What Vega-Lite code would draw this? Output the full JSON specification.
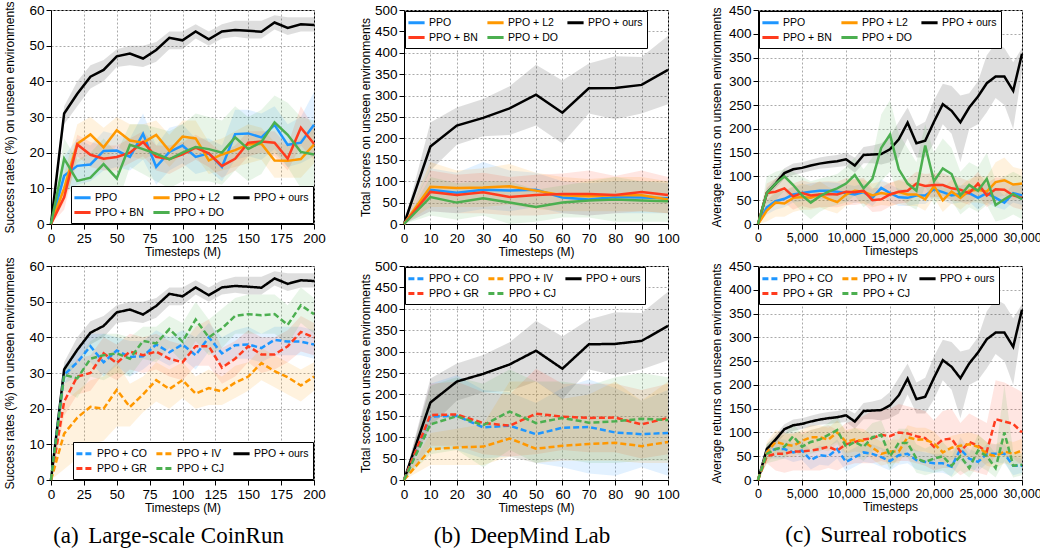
{
"$schema": "https://vega.github.io/schema/vega-lite/v6.json",
"background": "white",
"padding": {"left": 3, "top": 0, "right": 0, "bottom": 0},
"columns": 3,
"spacing": {"row": 42, "column": 90},
"bounds": "flush",
"resolve": {"scale": {"fill": "independent", "stroke": "independent", "strokeDash": "independent", "x": "independent", "y": "independent"}, "legend": {"stroke": "independent", "strokeDash": "independent"}},
"datasets": {
"a": [
{"s":"PPO + ours","t":0,"v":0,"l":0,"h":0},{"s":"PPO + ours","t":10,"v":31,"l":28,"h":33},{"s":"PPO + ours","t":20,"v":36.5,"l":33,"h":40},{"s":"PPO + ours","t":30,"v":41.3,"l":38,"h":44.5},{"s":"PPO + ours","t":40,"v":43.2,"l":40,"h":46},{"s":"PPO + ours","t":50,"v":47,"l":44,"h":49},{"s":"PPO + ours","t":60,"v":47.8,"l":44.5,"h":50},{"s":"PPO + ours","t":70,"v":46.4,"l":44,"h":50},{"s":"PPO + ours","t":80,"v":48.8,"l":45.5,"h":51},{"s":"PPO + ours","t":90,"v":52.2,"l":49,"h":54},{"s":"PPO + ours","t":100,"v":51.5,"l":49,"h":54},{"s":"PPO + ours","t":110,"v":54,"l":52,"h":56},{"s":"PPO + ours","t":120,"v":51.8,"l":50,"h":54},{"s":"PPO + ours","t":130,"v":54,"l":52,"h":56},{"s":"PPO + ours","t":140,"v":54.4,"l":52.5,"h":57},{"s":"PPO + ours","t":150,"v":54.2,"l":52,"h":57},{"s":"PPO + ours","t":160,"v":53.9,"l":52,"h":57},{"s":"PPO + ours","t":170,"v":56.5,"l":54.5,"h":58.5},{"s":"PPO + ours","t":180,"v":55,"l":53,"h":58},{"s":"PPO + ours","t":190,"v":56,"l":54,"h":58},{"s":"PPO + ours","t":200,"v":55.8,"l":54,"h":58},
{"s":"PPO","t":0,"v":0,"l":0,"h":0},{"s":"PPO","t":10,"v":13.5,"l":9,"h":19},{"s":"PPO","t":20,"v":16.3,"l":11,"h":24},{"s":"PPO","t":30,"v":16.7,"l":12,"h":22},{"s":"PPO","t":40,"v":20.5,"l":15,"h":26},{"s":"PPO","t":50,"v":20.6,"l":16,"h":25},{"s":"PPO","t":60,"v":18.8,"l":15,"h":24},{"s":"PPO","t":70,"v":25.3,"l":18,"h":31},{"s":"PPO","t":80,"v":16,"l":11,"h":22},{"s":"PPO","t":90,"v":20.2,"l":15,"h":27},{"s":"PPO","t":100,"v":22,"l":17,"h":28},{"s":"PPO","t":110,"v":18.8,"l":14,"h":24},{"s":"PPO","t":120,"v":19.8,"l":15,"h":24},{"s":"PPO","t":130,"v":16,"l":12,"h":22},{"s":"PPO","t":140,"v":25.2,"l":18,"h":32},{"s":"PPO","t":150,"v":25.4,"l":19,"h":32},{"s":"PPO","t":160,"v":24.3,"l":18,"h":31},{"s":"PPO","t":170,"v":27.8,"l":21,"h":33},{"s":"PPO","t":180,"v":22.2,"l":16,"h":28},{"s":"PPO","t":190,"v":22.8,"l":17,"h":30},{"s":"PPO","t":200,"v":27.8,"l":19,"h":37},
{"s":"PPO + L2","t":0,"v":0,"l":0,"h":0},{"s":"PPO + L2","t":10,"v":10,"l":6,"h":14},{"s":"PPO + L2","t":20,"v":22.5,"l":17,"h":28},{"s":"PPO + L2","t":30,"v":25.1,"l":20,"h":30},{"s":"PPO + L2","t":40,"v":21.5,"l":17,"h":27},{"s":"PPO + L2","t":50,"v":26.3,"l":22,"h":30},{"s":"PPO + L2","t":60,"v":23.4,"l":19,"h":28},{"s":"PPO + L2","t":70,"v":22.8,"l":18,"h":28},{"s":"PPO + L2","t":80,"v":25,"l":20,"h":29},{"s":"PPO + L2","t":90,"v":20.5,"l":16,"h":25},{"s":"PPO + L2","t":100,"v":24.5,"l":20,"h":29},{"s":"PPO + L2","t":110,"v":24,"l":19,"h":29},{"s":"PPO + L2","t":120,"v":17.8,"l":14,"h":23},{"s":"PPO + L2","t":130,"v":19.5,"l":15,"h":24},{"s":"PPO + L2","t":140,"v":20.7,"l":16,"h":26},{"s":"PPO + L2","t":150,"v":22.3,"l":17,"h":28},{"s":"PPO + L2","t":160,"v":22.5,"l":18,"h":27},{"s":"PPO + L2","t":170,"v":17.8,"l":13,"h":23},{"s":"PPO + L2","t":180,"v":17.7,"l":13,"h":22},{"s":"PPO + L2","t":190,"v":18.2,"l":13,"h":24},{"s":"PPO + L2","t":200,"v":22.3,"l":17,"h":28},
{"s":"PPO + BN","t":0,"v":0,"l":0,"h":0},{"s":"PPO + BN","t":10,"v":7.5,"l":4,"h":11},{"s":"PPO + BN","t":20,"v":22.3,"l":19,"h":25},{"s":"PPO + BN","t":30,"v":19.4,"l":16,"h":23},{"s":"PPO + BN","t":40,"v":18.3,"l":15,"h":22},{"s":"PPO + BN","t":50,"v":18.8,"l":15,"h":22},{"s":"PPO + BN","t":60,"v":20,"l":17,"h":24},{"s":"PPO + BN","t":70,"v":23,"l":19,"h":26},{"s":"PPO + BN","t":80,"v":18.8,"l":15,"h":22},{"s":"PPO + BN","t":90,"v":18.2,"l":14,"h":22},{"s":"PPO + BN","t":100,"v":19.5,"l":16,"h":23},{"s":"PPO + BN","t":110,"v":21.4,"l":18,"h":25},{"s":"PPO + BN","t":120,"v":19.8,"l":16,"h":23},{"s":"PPO + BN","t":130,"v":16.3,"l":13,"h":20},{"s":"PPO + BN","t":140,"v":18.3,"l":15,"h":22},{"s":"PPO + BN","t":150,"v":22.8,"l":19,"h":26},{"s":"PPO + BN","t":160,"v":23.1,"l":20,"h":26},{"s":"PPO + BN","t":170,"v":22.8,"l":19,"h":26},{"s":"PPO + BN","t":180,"v":18.3,"l":15,"h":22},{"s":"PPO + BN","t":190,"v":27,"l":22,"h":33},{"s":"PPO + BN","t":200,"v":22.5,"l":18,"h":27},
{"s":"PPO + DO","t":0,"v":0,"l":0,"h":0},{"s":"PPO + DO","t":10,"v":18.3,"l":12,"h":24},{"s":"PPO + DO","t":20,"v":12.1,"l":6,"h":18},{"s":"PPO + DO","t":30,"v":13,"l":6,"h":20},{"s":"PPO + DO","t":40,"v":16.8,"l":10,"h":24},{"s":"PPO + DO","t":50,"v":12.8,"l":5,"h":20},{"s":"PPO + DO","t":60,"v":22.2,"l":16,"h":28},{"s":"PPO + DO","t":70,"v":21,"l":14,"h":28},{"s":"PPO + DO","t":80,"v":19.7,"l":12,"h":27},{"s":"PPO + DO","t":90,"v":18.1,"l":10,"h":26},{"s":"PPO + DO","t":100,"v":20,"l":12,"h":28},{"s":"PPO + DO","t":110,"v":21.6,"l":12,"h":31},{"s":"PPO + DO","t":120,"v":21,"l":12,"h":30},{"s":"PPO + DO","t":130,"v":20,"l":11,"h":29},{"s":"PPO + DO","t":140,"v":24.3,"l":15,"h":33},{"s":"PPO + DO","t":150,"v":21,"l":12,"h":30},{"s":"PPO + DO","t":160,"v":23,"l":14,"h":32},{"s":"PPO + DO","t":170,"v":28.5,"l":20,"h":36},{"s":"PPO + DO","t":180,"v":25,"l":16,"h":34},{"s":"PPO + DO","t":190,"v":20.2,"l":10,"h":30},{"s":"PPO + DO","t":200,"v":19.5,"l":10,"h":29},
{"s":"PPO + CO","t":0,"v":0,"l":0,"h":0},{"s":"PPO + CO","t":10,"v":29.5,"l":27,"h":32},{"s":"PPO + CO","t":20,"v":33,"l":29,"h":37},{"s":"PPO + CO","t":30,"v":37.5,"l":33,"h":41},{"s":"PPO + CO","t":40,"v":33,"l":29,"h":41},{"s":"PPO + CO","t":50,"v":36.3,"l":32,"h":40},{"s":"PPO + CO","t":60,"v":34.5,"l":29,"h":39},{"s":"PPO + CO","t":70,"v":34.7,"l":31,"h":39},{"s":"PPO + CO","t":80,"v":38,"l":34,"h":42},{"s":"PPO + CO","t":90,"v":35.8,"l":32,"h":40},{"s":"PPO + CO","t":100,"v":38,"l":34,"h":42},{"s":"PPO + CO","t":110,"v":35,"l":31,"h":40},{"s":"PPO + CO","t":120,"v":40,"l":36,"h":44},{"s":"PPO + CO","t":130,"v":35.5,"l":32,"h":40},{"s":"PPO + CO","t":140,"v":37.8,"l":34,"h":42},{"s":"PPO + CO","t":150,"v":38,"l":34,"h":43},{"s":"PPO + CO","t":160,"v":37,"l":33,"h":41},{"s":"PPO + CO","t":170,"v":39.3,"l":35,"h":43},{"s":"PPO + CO","t":180,"v":38.8,"l":35,"h":43},{"s":"PPO + CO","t":190,"v":38.8,"l":35,"h":43},{"s":"PPO + CO","t":200,"v":38,"l":34,"h":42},
{"s":"PPO + GR","t":0,"v":0,"l":0,"h":0},{"s":"PPO + GR","t":10,"v":22,"l":18,"h":27},{"s":"PPO + GR","t":20,"v":29,"l":24,"h":34},{"s":"PPO + GR","t":30,"v":30,"l":25,"h":35},{"s":"PPO + GR","t":40,"v":35.5,"l":30,"h":40},{"s":"PPO + GR","t":50,"v":32.8,"l":28,"h":38},{"s":"PPO + GR","t":60,"v":36,"l":31,"h":41},{"s":"PPO + GR","t":70,"v":35,"l":30,"h":40},{"s":"PPO + GR","t":80,"v":36,"l":31,"h":41},{"s":"PPO + GR","t":90,"v":34,"l":29,"h":39},{"s":"PPO + GR","t":100,"v":33,"l":28,"h":38},{"s":"PPO + GR","t":110,"v":37.5,"l":32,"h":43},{"s":"PPO + GR","t":120,"v":37.5,"l":32,"h":45},{"s":"PPO + GR","t":130,"v":31.5,"l":27,"h":37},{"s":"PPO + GR","t":140,"v":34,"l":29,"h":39},{"s":"PPO + GR","t":150,"v":37.5,"l":33,"h":42},{"s":"PPO + GR","t":160,"v":35.2,"l":30,"h":40},{"s":"PPO + GR","t":170,"v":35.2,"l":31,"h":40},{"s":"PPO + GR","t":180,"v":37.5,"l":33,"h":42},{"s":"PPO + GR","t":190,"v":41.5,"l":36,"h":46},{"s":"PPO + GR","t":200,"v":40,"l":35,"h":44},
{"s":"PPO + IV","t":0,"v":0,"l":0,"h":0},{"s":"PPO + IV","t":10,"v":13,"l":3,"h":22},{"s":"PPO + IV","t":20,"v":17.5,"l":6,"h":25},{"s":"PPO + IV","t":30,"v":20.5,"l":10,"h":28},{"s":"PPO + IV","t":40,"v":20,"l":11,"h":29},{"s":"PPO + IV","t":50,"v":25.3,"l":15,"h":33},{"s":"PPO + IV","t":60,"v":20.5,"l":15,"h":27},{"s":"PPO + IV","t":70,"v":24,"l":19,"h":29},{"s":"PPO + IV","t":80,"v":28,"l":22,"h":33},{"s":"PPO + IV","t":90,"v":25.5,"l":20,"h":31},{"s":"PPO + IV","t":100,"v":28,"l":23,"h":33},{"s":"PPO + IV","t":110,"v":24.2,"l":20,"h":29},{"s":"PPO + IV","t":120,"v":25.8,"l":21,"h":31},{"s":"PPO + IV","t":130,"v":24.8,"l":21,"h":29},{"s":"PPO + IV","t":140,"v":27.3,"l":23,"h":32},{"s":"PPO + IV","t":150,"v":29,"l":25,"h":33},{"s":"PPO + IV","t":160,"v":32.8,"l":28,"h":37},{"s":"PPO + IV","t":170,"v":30.5,"l":26,"h":35},{"s":"PPO + IV","t":180,"v":28.8,"l":24,"h":33},{"s":"PPO + IV","t":190,"v":26.5,"l":22,"h":31},{"s":"PPO + IV","t":200,"v":29,"l":25,"h":33},
{"s":"PPO + CJ","t":0,"v":0,"l":0,"h":0},{"s":"PPO + CJ","t":10,"v":29.5,"l":25,"h":32},{"s":"PPO + CJ","t":20,"v":28.5,"l":23,"h":33},{"s":"PPO + CJ","t":30,"v":34,"l":29,"h":39},{"s":"PPO + CJ","t":40,"v":35,"l":28,"h":41},{"s":"PPO + CJ","t":50,"v":35.5,"l":30,"h":41},{"s":"PPO + CJ","t":60,"v":34,"l":29,"h":40},{"s":"PPO + CJ","t":70,"v":39,"l":34,"h":43},{"s":"PPO + CJ","t":80,"v":38.3,"l":33,"h":43},{"s":"PPO + CJ","t":90,"v":42.3,"l":37,"h":46},{"s":"PPO + CJ","t":100,"v":38.8,"l":33,"h":44},{"s":"PPO + CJ","t":110,"v":45,"l":39,"h":50},{"s":"PPO + CJ","t":120,"v":40,"l":35,"h":45},{"s":"PPO + CJ","t":130,"v":42.5,"l":37,"h":48},{"s":"PPO + CJ","t":140,"v":46,"l":41,"h":51},{"s":"PPO + CJ","t":150,"v":46.5,"l":41,"h":52},{"s":"PPO + CJ","t":160,"v":46.2,"l":41,"h":52},{"s":"PPO + CJ","t":170,"v":46.5,"l":41,"h":52},{"s":"PPO + CJ","t":180,"v":43.5,"l":38,"h":49},{"s":"PPO + CJ","t":190,"v":49,"l":44,"h":54},{"s":"PPO + CJ","t":200,"v":46.5,"l":41,"h":51}
],
"b": [
{"s":"PPO + ours","t":0,"v":0,"l":0,"h":0},{"s":"PPO + ours","t":10,"v":181,"l":125,"h":237},{"s":"PPO + ours","t":20,"v":230,"l":185,"h":272},{"s":"PPO + ours","t":30,"v":248,"l":205,"h":292},{"s":"PPO + ours","t":40,"v":270,"l":208,"h":322},{"s":"PPO + ours","t":50,"v":302,"l":230,"h":372},{"s":"PPO + ours","t":60,"v":260,"l":188,"h":335},{"s":"PPO + ours","t":70,"v":317,"l":258,"h":375},{"s":"PPO + ours","t":80,"v":318,"l":245,"h":392},{"s":"PPO + ours","t":90,"v":325,"l":258,"h":390},{"s":"PPO + ours","t":100,"v":360,"l":280,"h":440},
{"s":"PPO","t":0,"v":0,"l":0,"h":0},{"s":"PPO","t":10,"v":80,"l":30,"h":130},{"s":"PPO","t":20,"v":73,"l":25,"h":120},{"s":"PPO","t":30,"v":80,"l":35,"h":145},{"s":"PPO","t":40,"v":78,"l":30,"h":125},{"s":"PPO","t":50,"v":80,"l":40,"h":120},{"s":"PPO","t":60,"v":62,"l":25,"h":100},{"s":"PPO","t":70,"v":57,"l":20,"h":95},{"s":"PPO","t":80,"v":63,"l":25,"h":100},{"s":"PPO","t":90,"v":62,"l":25,"h":100},{"s":"PPO","t":100,"v":60,"l":25,"h":95},
{"s":"PPO + L2","t":0,"v":0,"l":0,"h":0},{"s":"PPO + L2","t":10,"v":87,"l":40,"h":145},{"s":"PPO + L2","t":20,"v":84,"l":40,"h":125},{"s":"PPO + L2","t":30,"v":85,"l":40,"h":130},{"s":"PPO + L2","t":40,"v":88,"l":45,"h":140},{"s":"PPO + L2","t":50,"v":78,"l":35,"h":120},{"s":"PPO + L2","t":60,"v":67,"l":30,"h":110},{"s":"PPO + L2","t":70,"v":65,"l":30,"h":105},{"s":"PPO + L2","t":80,"v":67,"l":30,"h":110},{"s":"PPO + L2","t":90,"v":67,"l":30,"h":110},{"s":"PPO + L2","t":100,"v":57,"l":25,"h":100},
{"s":"PPO + BN","t":0,"v":0,"l":0,"h":0},{"s":"PPO + BN","t":10,"v":75,"l":30,"h":125},{"s":"PPO + BN","t":20,"v":68,"l":25,"h":115},{"s":"PPO + BN","t":30,"v":74,"l":25,"h":120},{"s":"PPO + BN","t":40,"v":63,"l":20,"h":110},{"s":"PPO + BN","t":50,"v":68,"l":20,"h":115},{"s":"PPO + BN","t":60,"v":70,"l":25,"h":118},{"s":"PPO + BN","t":70,"v":70,"l":20,"h":125},{"s":"PPO + BN","t":80,"v":68,"l":25,"h":112},{"s":"PPO + BN","t":90,"v":75,"l":30,"h":125},{"s":"PPO + BN","t":100,"v":68,"l":25,"h":110},
{"s":"PPO + DO","t":0,"v":0,"l":0,"h":0},{"s":"PPO + DO","t":10,"v":63,"l":20,"h":110},{"s":"PPO + DO","t":20,"v":50,"l":10,"h":95},{"s":"PPO + DO","t":30,"v":60,"l":20,"h":100},{"s":"PPO + DO","t":40,"v":50,"l":0,"h":100},{"s":"PPO + DO","t":50,"v":40,"l":5,"h":80},{"s":"PPO + DO","t":60,"v":50,"l":15,"h":90},{"s":"PPO + DO","t":70,"v":55,"l":15,"h":100},{"s":"PPO + DO","t":80,"v":57,"l":5,"h":110},{"s":"PPO + DO","t":90,"v":55,"l":5,"h":100},{"s":"PPO + DO","t":100,"v":53,"l":5,"h":100},
{"s":"PPO + CO","t":0,"v":0,"l":0,"h":0},{"s":"PPO + CO","t":10,"v":148,"l":75,"h":225},{"s":"PPO + CO","t":20,"v":150,"l":70,"h":245},{"s":"PPO + CO","t":30,"v":123,"l":50,"h":210},{"s":"PPO + CO","t":40,"v":127,"l":55,"h":205},{"s":"PPO + CO","t":50,"v":107,"l":40,"h":180},{"s":"PPO + CO","t":60,"v":122,"l":30,"h":215},{"s":"PPO + CO","t":70,"v":124,"l":15,"h":235},{"s":"PPO + CO","t":80,"v":111,"l":10,"h":215},{"s":"PPO + CO","t":90,"v":107,"l":30,"h":185},{"s":"PPO + CO","t":100,"v":110,"l":10,"h":210},
{"s":"PPO + GR","t":0,"v":0,"l":0,"h":0},{"s":"PPO + GR","t":10,"v":152,"l":80,"h":225},{"s":"PPO + GR","t":20,"v":153,"l":80,"h":230},{"s":"PPO + GR","t":30,"v":133,"l":60,"h":205},{"s":"PPO + GR","t":40,"v":127,"l":55,"h":200},{"s":"PPO + GR","t":50,"v":155,"l":60,"h":260},{"s":"PPO + GR","t":60,"v":148,"l":70,"h":225},{"s":"PPO + GR","t":70,"v":145,"l":65,"h":225},{"s":"PPO + GR","t":80,"v":146,"l":65,"h":225},{"s":"PPO + GR","t":90,"v":130,"l":50,"h":210},{"s":"PPO + GR","t":100,"v":145,"l":60,"h":225},
{"s":"PPO + IV","t":0,"v":0,"l":0,"h":0},{"s":"PPO + IV","t":10,"v":72,"l":35,"h":110},{"s":"PPO + IV","t":20,"v":76,"l":35,"h":120},{"s":"PPO + IV","t":30,"v":78,"l":35,"h":130},{"s":"PPO + IV","t":40,"v":97,"l":55,"h":230},{"s":"PPO + IV","t":50,"v":73,"l":40,"h":230},{"s":"PPO + IV","t":60,"v":80,"l":45,"h":190},{"s":"PPO + IV","t":70,"v":84,"l":45,"h":200},{"s":"PPO + IV","t":80,"v":87,"l":45,"h":230},{"s":"PPO + IV","t":90,"v":79,"l":40,"h":185},{"s":"PPO + IV","t":100,"v":89,"l":40,"h":230},
{"s":"PPO + CJ","t":0,"v":0,"l":0,"h":0},{"s":"PPO + CJ","t":10,"v":130,"l":60,"h":220},{"s":"PPO + CJ","t":20,"v":149,"l":70,"h":240},{"s":"PPO + CJ","t":30,"v":128,"l":30,"h":225},{"s":"PPO + CJ","t":40,"v":160,"l":70,"h":258},{"s":"PPO + CJ","t":50,"v":133,"l":40,"h":230},{"s":"PPO + CJ","t":60,"v":145,"l":50,"h":230},{"s":"PPO + CJ","t":70,"v":134,"l":40,"h":220},{"s":"PPO + CJ","t":80,"v":137,"l":40,"h":240},{"s":"PPO + CJ","t":90,"v":143,"l":45,"h":250},{"s":"PPO + CJ","t":100,"v":140,"l":45,"h":240}
],
"c": [
{"s":"PPO + ours","t":0,"v":0,"l":0,"h":0},{"s":"PPO + ours","t":1000,"v":65,"l":55,"h":75},{"s":"PPO + ours","t":2000,"v":85,"l":75,"h":95},{"s":"PPO + ours","t":3000,"v":107,"l":95,"h":117},{"s":"PPO + ours","t":4000,"v":115,"l":103,"h":127},{"s":"PPO + ours","t":5000,"v":118,"l":107,"h":130},{"s":"PPO + ours","t":6000,"v":123,"l":112,"h":135},{"s":"PPO + ours","t":7000,"v":127,"l":116,"h":140},{"s":"PPO + ours","t":8000,"v":130,"l":118,"h":143},{"s":"PPO + ours","t":9000,"v":132,"l":120,"h":145},{"s":"PPO + ours","t":10000,"v":136,"l":122,"h":150},{"s":"PPO + ours","t":11000,"v":123,"l":108,"h":140},{"s":"PPO + ours","t":12000,"v":145,"l":128,"h":162},{"s":"PPO + ours","t":13000,"v":146,"l":128,"h":165},{"s":"PPO + ours","t":14000,"v":147,"l":125,"h":170},{"s":"PPO + ours","t":15000,"v":157,"l":130,"h":185},{"s":"PPO + ours","t":16000,"v":178,"l":140,"h":215},{"s":"PPO + ours","t":17000,"v":213,"l":180,"h":245},{"s":"PPO + ours","t":18000,"v":170,"l":140,"h":205},{"s":"PPO + ours","t":19000,"v":175,"l":140,"h":215},{"s":"PPO + ours","t":20000,"v":215,"l":170,"h":260},{"s":"PPO + ours","t":21000,"v":252,"l":210,"h":295},{"s":"PPO + ours","t":22000,"v":238,"l":190,"h":290},{"s":"PPO + ours","t":23000,"v":214,"l":130,"h":270},{"s":"PPO + ours","t":24000,"v":245,"l":200,"h":275},{"s":"PPO + ours","t":25000,"v":268,"l":210,"h":300},{"s":"PPO + ours","t":26000,"v":296,"l":235,"h":355},{"s":"PPO + ours","t":27000,"v":310,"l":265,"h":380},{"s":"PPO + ours","t":28000,"v":310,"l":250,"h":370},{"s":"PPO + ours","t":29000,"v":280,"l":200,"h":340},{"s":"PPO + ours","t":30000,"v":358,"l":320,"h":370},
{"s":"PPO","t":0,"v":0,"l":0,"h":0},{"s":"PPO","t":1000,"v":35,"l":20,"h":50},{"s":"PPO","t":2000,"v":48,"l":30,"h":65},{"s":"PPO","t":3000,"v":53,"l":35,"h":70},{"s":"PPO","t":4000,"v":62,"l":45,"h":78},{"s":"PPO","t":5000,"v":65,"l":48,"h":82},{"s":"PPO","t":6000,"v":68,"l":50,"h":85},{"s":"PPO","t":7000,"v":70,"l":52,"h":88},{"s":"PPO","t":8000,"v":70,"l":52,"h":88},{"s":"PPO","t":9000,"v":68,"l":50,"h":86},{"s":"PPO","t":10000,"v":65,"l":47,"h":83},{"s":"PPO","t":11000,"v":62,"l":44,"h":80},{"s":"PPO","t":12000,"v":67,"l":49,"h":85},{"s":"PPO","t":13000,"v":55,"l":38,"h":72},{"s":"PPO","t":14000,"v":76,"l":58,"h":94},{"s":"PPO","t":15000,"v":65,"l":47,"h":83},{"s":"PPO","t":16000,"v":56,"l":38,"h":74},{"s":"PPO","t":17000,"v":55,"l":38,"h":72},{"s":"PPO","t":18000,"v":60,"l":42,"h":78},{"s":"PPO","t":19000,"v":60,"l":42,"h":78},{"s":"PPO","t":20000,"v":73,"l":55,"h":91},{"s":"PPO","t":21000,"v":67,"l":49,"h":85},{"s":"PPO","t":22000,"v":60,"l":42,"h":78},{"s":"PPO","t":23000,"v":63,"l":45,"h":81},{"s":"PPO","t":24000,"v":65,"l":47,"h":83},{"s":"PPO","t":25000,"v":55,"l":30,"h":75},{"s":"PPO","t":26000,"v":65,"l":45,"h":85},{"s":"PPO","t":27000,"v":55,"l":35,"h":75},{"s":"PPO","t":28000,"v":45,"l":30,"h":60},{"s":"PPO","t":29000,"v":65,"l":45,"h":85},{"s":"PPO","t":30000,"v":60,"l":40,"h":80},
{"s":"PPO + L2","t":0,"v":0,"l":0,"h":0},{"s":"PPO + L2","t":1000,"v":28,"l":5,"h":50},{"s":"PPO + L2","t":2000,"v":45,"l":15,"h":70},{"s":"PPO + L2","t":3000,"v":43,"l":15,"h":70},{"s":"PPO + L2","t":4000,"v":55,"l":25,"h":80},{"s":"PPO + L2","t":5000,"v":57,"l":30,"h":85},{"s":"PPO + L2","t":6000,"v":55,"l":30,"h":80},{"s":"PPO + L2","t":7000,"v":62,"l":35,"h":90},{"s":"PPO + L2","t":8000,"v":53,"l":28,"h":78},{"s":"PPO + L2","t":9000,"v":46,"l":22,"h":70},{"s":"PPO + L2","t":10000,"v":62,"l":38,"h":86},{"s":"PPO + L2","t":11000,"v":70,"l":45,"h":95},{"s":"PPO + L2","t":12000,"v":68,"l":43,"h":93},{"s":"PPO + L2","t":13000,"v":60,"l":35,"h":85},{"s":"PPO + L2","t":14000,"v":65,"l":40,"h":90},{"s":"PPO + L2","t":15000,"v":62,"l":38,"h":86},{"s":"PPO + L2","t":16000,"v":67,"l":42,"h":92},{"s":"PPO + L2","t":17000,"v":62,"l":38,"h":86},{"s":"PPO + L2","t":18000,"v":62,"l":38,"h":86},{"s":"PPO + L2","t":19000,"v":52,"l":28,"h":76},{"s":"PPO + L2","t":20000,"v":80,"l":55,"h":105},{"s":"PPO + L2","t":21000,"v":50,"l":25,"h":75},{"s":"PPO + L2","t":22000,"v":68,"l":43,"h":93},{"s":"PPO + L2","t":23000,"v":55,"l":30,"h":80},{"s":"PPO + L2","t":24000,"v":70,"l":45,"h":95},{"s":"PPO + L2","t":25000,"v":72,"l":45,"h":100},{"s":"PPO + L2","t":26000,"v":68,"l":40,"h":100},{"s":"PPO + L2","t":27000,"v":88,"l":55,"h":130},{"s":"PPO + L2","t":28000,"v":92,"l":60,"h":140},{"s":"PPO + L2","t":29000,"v":83,"l":50,"h":120},{"s":"PPO + L2","t":30000,"v":85,"l":55,"h":115},
{"s":"PPO + BN","t":0,"v":0,"l":0,"h":0},{"s":"PPO + BN","t":1000,"v":65,"l":45,"h":85},{"s":"PPO + BN","t":2000,"v":68,"l":40,"h":95},{"s":"PPO + BN","t":3000,"v":75,"l":45,"h":105},{"s":"PPO + BN","t":4000,"v":58,"l":30,"h":85},{"s":"PPO + BN","t":5000,"v":65,"l":38,"h":92},{"s":"PPO + BN","t":6000,"v":60,"l":33,"h":87},{"s":"PPO + BN","t":7000,"v":62,"l":35,"h":89},{"s":"PPO + BN","t":8000,"v":63,"l":36,"h":90},{"s":"PPO + BN","t":9000,"v":62,"l":35,"h":89},{"s":"PPO + BN","t":10000,"v":68,"l":40,"h":96},{"s":"PPO + BN","t":11000,"v":67,"l":40,"h":94},{"s":"PPO + BN","t":12000,"v":70,"l":43,"h":97},{"s":"PPO + BN","t":13000,"v":50,"l":25,"h":75},{"s":"PPO + BN","t":14000,"v":52,"l":27,"h":77},{"s":"PPO + BN","t":15000,"v":62,"l":37,"h":87},{"s":"PPO + BN","t":16000,"v":68,"l":43,"h":93},{"s":"PPO + BN","t":17000,"v":70,"l":45,"h":95},{"s":"PPO + BN","t":18000,"v":85,"l":60,"h":110},{"s":"PPO + BN","t":19000,"v":80,"l":55,"h":105},{"s":"PPO + BN","t":20000,"v":82,"l":57,"h":107},{"s":"PPO + BN","t":21000,"v":82,"l":57,"h":107},{"s":"PPO + BN","t":22000,"v":75,"l":50,"h":100},{"s":"PPO + BN","t":23000,"v":72,"l":47,"h":97},{"s":"PPO + BN","t":24000,"v":65,"l":40,"h":90},{"s":"PPO + BN","t":25000,"v":85,"l":60,"h":110},{"s":"PPO + BN","t":26000,"v":60,"l":35,"h":85},{"s":"PPO + BN","t":27000,"v":73,"l":48,"h":98},{"s":"PPO + BN","t":28000,"v":72,"l":47,"h":97},{"s":"PPO + BN","t":29000,"v":60,"l":35,"h":85},{"s":"PPO + BN","t":30000,"v":55,"l":30,"h":80},
{"s":"PPO + DO","t":0,"v":0,"l":0,"h":0},{"s":"PPO + DO","t":1000,"v":65,"l":30,"h":100},{"s":"PPO + DO","t":2000,"v":85,"l":50,"h":110},{"s":"PPO + DO","t":3000,"v":100,"l":70,"h":115},{"s":"PPO + DO","t":4000,"v":82,"l":45,"h":110},{"s":"PPO + DO","t":5000,"v":60,"l":25,"h":100},{"s":"PPO + DO","t":6000,"v":45,"l":10,"h":90},{"s":"PPO + DO","t":7000,"v":58,"l":25,"h":95},{"s":"PPO + DO","t":8000,"v":68,"l":35,"h":100},{"s":"PPO + DO","t":9000,"v":75,"l":40,"h":105},{"s":"PPO + DO","t":10000,"v":85,"l":45,"h":120},{"s":"PPO + DO","t":11000,"v":103,"l":60,"h":140},{"s":"PPO + DO","t":12000,"v":75,"l":35,"h":115},{"s":"PPO + DO","t":13000,"v":95,"l":50,"h":140},{"s":"PPO + DO","t":14000,"v":160,"l":90,"h":230},{"s":"PPO + DO","t":15000,"v":188,"l":110,"h":260},{"s":"PPO + DO","t":16000,"v":115,"l":60,"h":190},{"s":"PPO + DO","t":17000,"v":85,"l":40,"h":160},{"s":"PPO + DO","t":18000,"v":70,"l":30,"h":130},{"s":"PPO + DO","t":19000,"v":165,"l":80,"h":210},{"s":"PPO + DO","t":20000,"v":90,"l":40,"h":150},{"s":"PPO + DO","t":21000,"v":117,"l":60,"h":180},{"s":"PPO + DO","t":22000,"v":105,"l":50,"h":160},{"s":"PPO + DO","t":23000,"v":60,"l":20,"h":110},{"s":"PPO + DO","t":24000,"v":82,"l":35,"h":130},{"s":"PPO + DO","t":25000,"v":70,"l":25,"h":120},{"s":"PPO + DO","t":26000,"v":95,"l":40,"h":150},{"s":"PPO + DO","t":27000,"v":40,"l":5,"h":90},{"s":"PPO + DO","t":28000,"v":52,"l":10,"h":100},{"s":"PPO + DO","t":29000,"v":63,"l":20,"h":110},{"s":"PPO + DO","t":30000,"v":52,"l":10,"h":100},
{"s":"PPO + CO","t":0,"v":0,"l":0,"h":0},{"s":"PPO + CO","t":1000,"v":60,"l":45,"h":75},{"s":"PPO + CO","t":2000,"v":65,"l":45,"h":85},{"s":"PPO + CO","t":3000,"v":65,"l":45,"h":85},{"s":"PPO + CO","t":4000,"v":58,"l":38,"h":78},{"s":"PPO + CO","t":5000,"v":62,"l":42,"h":82},{"s":"PPO + CO","t":6000,"v":42,"l":22,"h":62},{"s":"PPO + CO","t":7000,"v":52,"l":32,"h":72},{"s":"PPO + CO","t":8000,"v":50,"l":30,"h":70},{"s":"PPO + CO","t":9000,"v":65,"l":45,"h":85},{"s":"PPO + CO","t":10000,"v":38,"l":18,"h":58},{"s":"PPO + CO","t":11000,"v":48,"l":28,"h":68},{"s":"PPO + CO","t":12000,"v":58,"l":38,"h":78},{"s":"PPO + CO","t":13000,"v":55,"l":35,"h":75},{"s":"PPO + CO","t":14000,"v":48,"l":28,"h":68},{"s":"PPO + CO","t":15000,"v":40,"l":20,"h":60},{"s":"PPO + CO","t":16000,"v":52,"l":32,"h":72},{"s":"PPO + CO","t":17000,"v":55,"l":35,"h":75},{"s":"PPO + CO","t":18000,"v":42,"l":22,"h":62},{"s":"PPO + CO","t":19000,"v":38,"l":18,"h":58},{"s":"PPO + CO","t":20000,"v":35,"l":15,"h":55},{"s":"PPO + CO","t":21000,"v":35,"l":15,"h":55},{"s":"PPO + CO","t":22000,"v":28,"l":8,"h":48},{"s":"PPO + CO","t":23000,"v":65,"l":40,"h":90},{"s":"PPO + CO","t":24000,"v":45,"l":25,"h":65},{"s":"PPO + CO","t":25000,"v":38,"l":18,"h":58},{"s":"PPO + CO","t":26000,"v":55,"l":35,"h":75},{"s":"PPO + CO","t":27000,"v":55,"l":35,"h":75},{"s":"PPO + CO","t":28000,"v":55,"l":35,"h":75},{"s":"PPO + CO","t":29000,"v":30,"l":10,"h":50},{"s":"PPO + CO","t":30000,"v":30,"l":15,"h":45},
{"s":"PPO + GR","t":0,"v":0,"l":0,"h":0},{"s":"PPO + GR","t":1000,"v":50,"l":35,"h":65},{"s":"PPO + GR","t":2000,"v":55,"l":20,"h":90},{"s":"PPO + GR","t":3000,"v":55,"l":15,"h":95},{"s":"PPO + GR","t":4000,"v":60,"l":20,"h":100},{"s":"PPO + GR","t":5000,"v":60,"l":20,"h":100},{"s":"PPO + GR","t":6000,"v":62,"l":20,"h":105},{"s":"PPO + GR","t":7000,"v":65,"l":20,"h":110},{"s":"PPO + GR","t":8000,"v":70,"l":25,"h":115},{"s":"PPO + GR","t":9000,"v":62,"l":20,"h":105},{"s":"PPO + GR","t":10000,"v":75,"l":30,"h":120},{"s":"PPO + GR","t":11000,"v":80,"l":35,"h":125},{"s":"PPO + GR","t":12000,"v":85,"l":35,"h":135},{"s":"PPO + GR","t":13000,"v":88,"l":35,"h":145},{"s":"PPO + GR","t":14000,"v":95,"l":40,"h":150},{"s":"PPO + GR","t":15000,"v":92,"l":35,"h":150},{"s":"PPO + GR","t":16000,"v":100,"l":40,"h":160},{"s":"PPO + GR","t":17000,"v":98,"l":40,"h":155},{"s":"PPO + GR","t":18000,"v":92,"l":35,"h":150},{"s":"PPO + GR","t":19000,"v":88,"l":30,"h":145},{"s":"PPO + GR","t":20000,"v":70,"l":20,"h":125},{"s":"PPO + GR","t":21000,"v":85,"l":25,"h":145},{"s":"PPO + GR","t":22000,"v":87,"l":25,"h":150},{"s":"PPO + GR","t":23000,"v":60,"l":10,"h":120},{"s":"PPO + GR","t":24000,"v":80,"l":20,"h":140},{"s":"PPO + GR","t":25000,"v":72,"l":15,"h":130},{"s":"PPO + GR","t":26000,"v":60,"l":10,"h":120},{"s":"PPO + GR","t":27000,"v":128,"l":55,"h":210},{"s":"PPO + GR","t":28000,"v":123,"l":50,"h":205},{"s":"PPO + GR","t":29000,"v":118,"l":45,"h":195},{"s":"PPO + GR","t":30000,"v":100,"l":30,"h":185},
{"s":"PPO + IV","t":0,"v":0,"l":0,"h":0},{"s":"PPO + IV","t":1000,"v":58,"l":35,"h":80},{"s":"PPO + IV","t":2000,"v":80,"l":55,"h":105},{"s":"PPO + IV","t":3000,"v":75,"l":50,"h":100},{"s":"PPO + IV","t":4000,"v":72,"l":48,"h":96},{"s":"PPO + IV","t":5000,"v":82,"l":58,"h":106},{"s":"PPO + IV","t":6000,"v":90,"l":65,"h":115},{"s":"PPO + IV","t":7000,"v":90,"l":65,"h":115},{"s":"PPO + IV","t":8000,"v":85,"l":60,"h":110},{"s":"PPO + IV","t":9000,"v":100,"l":75,"h":125},{"s":"PPO + IV","t":10000,"v":80,"l":55,"h":105},{"s":"PPO + IV","t":11000,"v":85,"l":60,"h":110},{"s":"PPO + IV","t":12000,"v":82,"l":57,"h":107},{"s":"PPO + IV","t":13000,"v":68,"l":43,"h":93},{"s":"PPO + IV","t":14000,"v":55,"l":30,"h":80},{"s":"PPO + IV","t":15000,"v":60,"l":35,"h":85},{"s":"PPO + IV","t":16000,"v":60,"l":35,"h":85},{"s":"PPO + IV","t":17000,"v":90,"l":65,"h":115},{"s":"PPO + IV","t":18000,"v":85,"l":60,"h":110},{"s":"PPO + IV","t":19000,"v":85,"l":60,"h":110},{"s":"PPO + IV","t":20000,"v":77,"l":52,"h":102},{"s":"PPO + IV","t":21000,"v":58,"l":33,"h":83},{"s":"PPO + IV","t":22000,"v":68,"l":43,"h":93},{"s":"PPO + IV","t":23000,"v":72,"l":47,"h":97},{"s":"PPO + IV","t":24000,"v":75,"l":50,"h":100},{"s":"PPO + IV","t":25000,"v":70,"l":45,"h":95},{"s":"PPO + IV","t":26000,"v":55,"l":30,"h":80},{"s":"PPO + IV","t":27000,"v":50,"l":25,"h":75},{"s":"PPO + IV","t":28000,"v":60,"l":35,"h":85},{"s":"PPO + IV","t":29000,"v":55,"l":30,"h":80},{"s":"PPO + IV","t":30000,"v":62,"l":37,"h":87},
{"s":"PPO + CJ","t":0,"v":0,"l":0,"h":0},{"s":"PPO + CJ","t":1000,"v":55,"l":35,"h":75},{"s":"PPO + CJ","t":2000,"v":65,"l":40,"h":90},{"s":"PPO + CJ","t":3000,"v":70,"l":45,"h":95},{"s":"PPO + CJ","t":4000,"v":92,"l":65,"h":120},{"s":"PPO + CJ","t":5000,"v":70,"l":45,"h":95},{"s":"PPO + CJ","t":6000,"v":80,"l":55,"h":105},{"s":"PPO + CJ","t":7000,"v":85,"l":60,"h":110},{"s":"PPO + CJ","t":8000,"v":95,"l":70,"h":120},{"s":"PPO + CJ","t":9000,"v":105,"l":80,"h":135},{"s":"PPO + CJ","t":10000,"v":70,"l":40,"h":100},{"s":"PPO + CJ","t":11000,"v":80,"l":50,"h":110},{"s":"PPO + CJ","t":12000,"v":70,"l":40,"h":100},{"s":"PPO + CJ","t":13000,"v":90,"l":60,"h":120},{"s":"PPO + CJ","t":14000,"v":95,"l":65,"h":125},{"s":"PPO + CJ","t":15000,"v":50,"l":20,"h":80},{"s":"PPO + CJ","t":16000,"v":78,"l":48,"h":108},{"s":"PPO + CJ","t":17000,"v":78,"l":48,"h":108},{"s":"PPO + CJ","t":18000,"v":45,"l":15,"h":75},{"s":"PPO + CJ","t":19000,"v":38,"l":10,"h":66},{"s":"PPO + CJ","t":20000,"v":45,"l":15,"h":75},{"s":"PPO + CJ","t":21000,"v":50,"l":20,"h":80},{"s":"PPO + CJ","t":22000,"v":30,"l":5,"h":60},{"s":"PPO + CJ","t":23000,"v":50,"l":20,"h":80},{"s":"PPO + CJ","t":24000,"v":25,"l":5,"h":55},{"s":"PPO + CJ","t":25000,"v":62,"l":30,"h":95},{"s":"PPO + CJ","t":26000,"v":50,"l":20,"h":80},{"s":"PPO + CJ","t":27000,"v":25,"l":5,"h":55},{"s":"PPO + CJ","t":28000,"v":100,"l":40,"h":200},{"s":"PPO + CJ","t":29000,"v":30,"l":5,"h":60},{"s":"PPO + CJ","t":30000,"v":32,"l":10,"h":55}
]
},
"concat": [
{
"width": 263, "height": 214,
"data": {"name": "a"},
"transform": [{"filter": {"field": "s", "oneOf": ["PPO", "PPO + L2", "PPO + ours", "PPO + BN", "PPO + DO"]}}],
"encoding": {"x": {"field": "t", "type": "quantitative", "scale": {"domain": [0, 200], "nice": false}, "axis": {"title": "Timesteps (M)", "values": [0, 25, 50, 75, 100, 125, 150, 175, 200]}}},
"layer": [
{"mark": {"type": "area", "opacity": 0.13}, "encoding": {"y": {"field": "l", "type": "quantitative", "scale": {"domain": [0, 60], "nice": false}, "axis": {"title": "Success rates (%) on unseen environments", "titlePadding": 12, "values": [0, 10, 20, 30, 40, 50, 60]}}, "y2": {"field": "h"}, "fill": {"field": "s", "type": "nominal", "scale": {"domain": ["PPO", "PPO + BN", "PPO + DO", "PPO + L2", "PPO + ours"], "range": ["#1E96FF", "#FF3B1E", "#4CAF50", "#FF9800", "#000000"]}, "legend": null}}},
{"mark": {"type": "line", "strokeWidth": 2.5}, "encoding": {"y": {"field": "v", "type": "quantitative", "axis": {"title": "Success rates (%) on unseen environments", "titlePadding": 12, "values": [0, 10, 20, 30, 40, 50, 60]}}, "stroke": {"field": "s", "type": "nominal", "scale": {"domain": ["PPO", "PPO + L2", "PPO + ours", "PPO + BN", "PPO + DO"], "range": ["#1E96FF", "#FF9800", "#000000", "#FF3B1E", "#4CAF50"]}, "legend": {"title": null, "orient": "bottom-right", "symbolType": "M-1.35,0H1.35"}}}}
]
},
{
"width": 264, "height": 214,
"data": {"name": "b"},
"transform": [{"filter": {"field": "s", "oneOf": ["PPO", "PPO + L2", "PPO + ours", "PPO + BN", "PPO + DO"]}}],
"encoding": {"x": {"field": "t", "type": "quantitative", "scale": {"domain": [0, 100], "nice": false}, "axis": {"title": "Timesteps (M)", "values": [0, 10, 20, 30, 40, 50, 60, 70, 80, 90, 100]}}},
"layer": [
{"mark": {"type": "area", "opacity": 0.13}, "encoding": {"y": {"field": "l", "type": "quantitative", "scale": {"domain": [0, 500], "nice": false}, "axis": {"title": "Total scores on unseen environments", "values": [0, 50, 100, 150, 200, 250, 300, 350, 400, 450, 500]}}, "y2": {"field": "h"}, "fill": {"field": "s", "type": "nominal", "scale": {"domain": ["PPO", "PPO + BN", "PPO + DO", "PPO + L2", "PPO + ours"], "range": ["#1E96FF", "#FF3B1E", "#4CAF50", "#FF9800", "#000000"]}, "legend": null}}},
{"mark": {"type": "line", "strokeWidth": 2.5}, "encoding": {"y": {"field": "v", "type": "quantitative", "axis": {"title": "Total scores on unseen environments", "values": [0, 50, 100, 150, 200, 250, 300, 350, 400, 450, 500]}}, "stroke": {"field": "s", "type": "nominal", "scale": {"domain": ["PPO", "PPO + L2", "PPO + ours", "PPO + BN", "PPO + DO"], "range": ["#1E96FF", "#FF9800", "#000000", "#FF3B1E", "#4CAF50"]}, "legend": {"title": null, "orient": "top-left", "symbolType": "M-1.35,0H1.35"}}}}
]
},
{
"width": 264, "height": 214,
"data": {"name": "c"},
"transform": [{"filter": {"field": "s", "oneOf": ["PPO", "PPO + L2", "PPO + ours", "PPO + BN", "PPO + DO"]}}],
"encoding": {"x": {"field": "t", "type": "quantitative", "scale": {"domain": [0, 30000], "nice": false}, "axis": {"title": "Timesteps", "format": ",.0f", "labelFontSize": 12.5, "values": [0, 5000, 10000, 15000, 20000, 25000, 30000]}}},
"layer": [
{"mark": {"type": "area", "opacity": 0.13}, "encoding": {"y": {"field": "l", "type": "quantitative", "scale": {"domain": [0, 450], "nice": false}, "axis": {"title": "Average returns on unseen environments", "titlePadding": 5, "values": [0, 50, 100, 150, 200, 250, 300, 350, 400, 450]}}, "y2": {"field": "h"}, "fill": {"field": "s", "type": "nominal", "scale": {"domain": ["PPO", "PPO + BN", "PPO + DO", "PPO + L2", "PPO + ours"], "range": ["#1E96FF", "#FF3B1E", "#4CAF50", "#FF9800", "#000000"]}, "legend": null}}},
{"mark": {"type": "line", "strokeWidth": 2.5}, "encoding": {"y": {"field": "v", "type": "quantitative", "axis": {"title": "Average returns on unseen environments", "titlePadding": 5, "values": [0, 50, 100, 150, 200, 250, 300, 350, 400, 450]}}, "stroke": {"field": "s", "type": "nominal", "scale": {"domain": ["PPO", "PPO + L2", "PPO + ours", "PPO + BN", "PPO + DO"], "range": ["#1E96FF", "#FF9800", "#000000", "#FF3B1E", "#4CAF50"]}, "legend": {"title": null, "orient": "top-left", "symbolType": "M-1.35,0H1.35"}}}}
]
},
{
"width": 263, "height": 214,
"title": {"text": "(a) \u2006Large-scale CoinRun", "orient": "bottom", "font": "Liberation Serif", "fontSize": 23, "fontWeight": "normal", "color": "#000", "offset": 11, "dx": -14},
"data": {"name": "a"},
"transform": [{"filter": {"field": "s", "oneOf": ["PPO + CO", "PPO + IV", "PPO + ours", "PPO + GR", "PPO + CJ"]}}],
"encoding": {"x": {"field": "t", "type": "quantitative", "scale": {"domain": [0, 200], "nice": false}, "axis": {"title": "Timesteps (M)", "values": [0, 25, 50, 75, 100, 125, 150, 175, 200]}}},
"layer": [
{"mark": {"type": "area", "opacity": 0.13}, "encoding": {"y": {"field": "l", "type": "quantitative", "scale": {"domain": [0, 60], "nice": false}, "axis": {"title": "Success rates (%) on unseen environments", "titlePadding": 12, "values": [0, 10, 20, 30, 40, 50, 60]}}, "y2": {"field": "h"}, "fill": {"field": "s", "type": "nominal", "scale": {"domain": ["PPO + CJ", "PPO + CO", "PPO + GR", "PPO + IV", "PPO + ours"], "range": ["#4CAF50", "#1E96FF", "#FF3B1E", "#FF9800", "#000000"]}, "legend": null}}},
{"mark": {"type": "line", "strokeWidth": 2.5}, "encoding": {"y": {"field": "v", "type": "quantitative", "axis": {"title": "Success rates (%) on unseen environments", "titlePadding": 12, "values": [0, 10, 20, 30, 40, 50, 60]}}, "stroke": {"field": "s", "type": "nominal", "scale": {"domain": ["PPO + CO", "PPO + IV", "PPO + ours", "PPO + GR", "PPO + CJ"], "range": ["#1E96FF", "#FF9800", "#000000", "#FF3B1E", "#4CAF50"]}, "legend": {"title": null, "orient": "bottom-right", "symbolType": "M-1.35,0H1.35"}}, "strokeDash": {"field": "s", "type": "nominal", "scale": {"domain": ["PPO + CO", "PPO + IV", "PPO + ours", "PPO + GR", "PPO + CJ"], "range": [[6, 3], [6, 3], [1, 0], [6, 3], [6, 3]]}, "legend": {"title": null, "orient": "bottom-right", "symbolType": "M-1.35,0H1.35"}}}}
]
},
{
"width": 264, "height": 214,
"title": {"text": "(b) \u2006DeepMind Lab", "orient": "bottom", "font": "Liberation Serif", "fontSize": 23, "fontWeight": "normal", "color": "#000", "offset": 11, "dx": -14},
"data": {"name": "b"},
"transform": [{"filter": {"field": "s", "oneOf": ["PPO + CO", "PPO + IV", "PPO + ours", "PPO + GR", "PPO + CJ"]}}],
"encoding": {"x": {"field": "t", "type": "quantitative", "scale": {"domain": [0, 100], "nice": false}, "axis": {"title": "Timesteps (M)", "values": [0, 10, 20, 30, 40, 50, 60, 70, 80, 90, 100]}}},
"layer": [
{"mark": {"type": "area", "opacity": 0.13}, "encoding": {"y": {"field": "l", "type": "quantitative", "scale": {"domain": [0, 500], "nice": false}, "axis": {"title": "Total scores on unseen environments", "values": [0, 50, 100, 150, 200, 250, 300, 350, 400, 450, 500]}}, "y2": {"field": "h"}, "fill": {"field": "s", "type": "nominal", "scale": {"domain": ["PPO + CJ", "PPO + CO", "PPO + GR", "PPO + IV", "PPO + ours"], "range": ["#4CAF50", "#1E96FF", "#FF3B1E", "#FF9800", "#000000"]}, "legend": null}}},
{"mark": {"type": "line", "strokeWidth": 2.5}, "encoding": {"y": {"field": "v", "type": "quantitative", "axis": {"title": "Total scores on unseen environments", "values": [0, 50, 100, 150, 200, 250, 300, 350, 400, 450, 500]}}, "stroke": {"field": "s", "type": "nominal", "scale": {"domain": ["PPO + CO", "PPO + IV", "PPO + ours", "PPO + GR", "PPO + CJ"], "range": ["#1E96FF", "#FF9800", "#000000", "#FF3B1E", "#4CAF50"]}, "legend": {"title": null, "orient": "top-left", "symbolType": "M-1.35,0H1.35"}}, "strokeDash": {"field": "s", "type": "nominal", "scale": {"domain": ["PPO + CO", "PPO + IV", "PPO + ours", "PPO + GR", "PPO + CJ"], "range": [[6, 3], [6, 3], [1, 0], [6, 3], [6, 3]]}, "legend": {"title": null, "orient": "top-left", "symbolType": "M-1.35,0H1.35"}}}}
]
},
{
"width": 264, "height": 214,
"title": {"text": "(c) \u2006Surreal robotics", "orient": "bottom", "font": "Liberation Serif", "fontSize": 23, "fontWeight": "normal", "color": "#000", "offset": 11, "dx": -14},
"data": {"name": "c"},
"transform": [{"filter": {"field": "s", "oneOf": ["PPO + CO", "PPO + IV", "PPO + ours", "PPO + GR", "PPO + CJ"]}}],
"encoding": {"x": {"field": "t", "type": "quantitative", "scale": {"domain": [0, 30000], "nice": false}, "axis": {"title": "Timesteps", "format": ",.0f", "labelFontSize": 12.5, "values": [0, 5000, 10000, 15000, 20000, 25000, 30000]}}},
"layer": [
{"mark": {"type": "area", "opacity": 0.13}, "encoding": {"y": {"field": "l", "type": "quantitative", "scale": {"domain": [0, 450], "nice": false}, "axis": {"title": "Average returns on unseen environments", "titlePadding": 5, "values": [0, 50, 100, 150, 200, 250, 300, 350, 400, 450]}}, "y2": {"field": "h"}, "fill": {"field": "s", "type": "nominal", "scale": {"domain": ["PPO + CJ", "PPO + CO", "PPO + GR", "PPO + IV", "PPO + ours"], "range": ["#4CAF50", "#1E96FF", "#FF3B1E", "#FF9800", "#000000"]}, "legend": null}}},
{"mark": {"type": "line", "strokeWidth": 2.5}, "encoding": {"y": {"field": "v", "type": "quantitative", "axis": {"title": "Average returns on unseen environments", "titlePadding": 5, "values": [0, 50, 100, 150, 200, 250, 300, 350, 400, 450]}}, "stroke": {"field": "s", "type": "nominal", "scale": {"domain": ["PPO + CO", "PPO + IV", "PPO + ours", "PPO + GR", "PPO + CJ"], "range": ["#1E96FF", "#FF9800", "#000000", "#FF3B1E", "#4CAF50"]}, "legend": {"title": null, "orient": "top-left", "symbolType": "M-1.35,0H1.35"}}, "strokeDash": {"field": "s", "type": "nominal", "scale": {"domain": ["PPO + CO", "PPO + IV", "PPO + ours", "PPO + GR", "PPO + CJ"], "range": [[6, 3], [6, 3], [1, 0], [6, 3], [6, 3]]}, "legend": {"title": null, "orient": "top-left", "symbolType": "M-1.35,0H1.35"}}}}
]
}
],
"config": {
"font": "Liberation Sans",
"view": {"stroke": "#000", "strokeWidth": 1},
"axis": {"labelFont": "Liberation Sans", "labelFontSize": 13.5, "labelColor": "#000", "labelFlush": false, "labelOverlap": false, "titleFont": "Liberation Sans", "titleFontSize": 12, "titleFontWeight": "normal", "titleColor": "#000", "domainColor": "#000", "tickColor": "#000", "tickSize": 5, "gridColor": "#aaaaaa", "gridDash": [2, 2], "gridOpacity": 1, "labelPadding": 2, "titlePadding": 2},
"legend": {"columns": 3, "direction": "horizontal", "strokeColor": "#000", "fillColor": "white", "padding": 4, "columnPadding": 3, "rowPadding": 1, "labelFont": "Liberation Sans", "labelFontSize": 10.5, "labelColor": "#000", "labelOffset": 5, "symbolSize": 144, "symbolStrokeWidth": 3, "offset": 1, "cornerRadius": 0}
}
}
